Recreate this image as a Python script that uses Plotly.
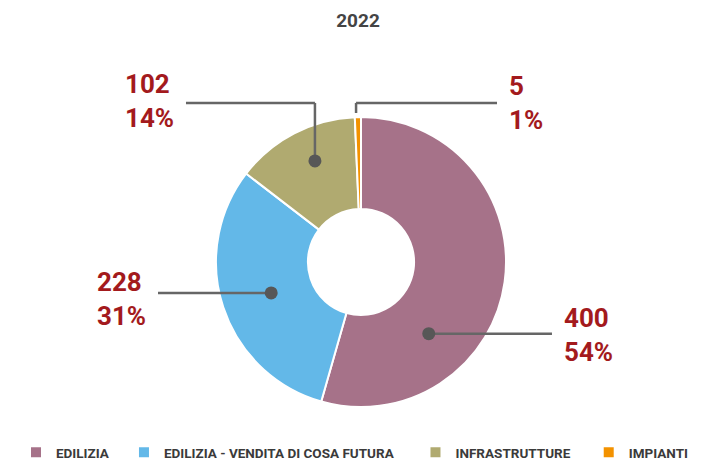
import math
import plotly.graph_objects as go

# ---- data ----
categories = ["EDILIZIA", "EDILIZIA - VENDITA DI COSA FUTURA", "INFRASTRUTTURE", "IMPIANTI"]
values = [400, 228, 102, 5]
colors = ["#A67289", "#63B8E8", "#B0AA70", "#F39200"]
title_text = "2022"

total = sum(values)
percents = [f"{round(v / total * 100)}%" for v in values]

# ---- geometry / layout constants (pixels) ----
W, H = 710, 464
CX, CY, R = 361, 262, 145
HOLE = 0.366
LEGEND_PAD = [3, 5, 4, 0]  # non-breaking spaces after each legend entry (spacing only)

# label placement per slice: anchor angle (deg clockwise from top), anchor radius (fraction of R),
# elbow y (units of R above centre, or None), line end x (units of R), dot shown, yshift of text (px)
label_cfg = [
    dict(angle=136.6, rad=0.68, elbow=None, end_x=1.317, dot=True, yshift=-1),
    dict(angle=251.0, rad=0.655, elbow=None, end_x=-1.40, dot=True, yshift=-6),
    dict(angle=335.5, rad=0.766, elbow=1.097, end_x=-1.207, dot=True, yshift=2),
    dict(angle=358.1, rad=1.028, elbow=1.097, end_x=0.938, dot=False, yshift=0),
]

LABEL_FONT = "Roboto, 'DejaVu Sans', sans-serif"
LEGEND_FONT = "Roboto, 'DejaVu Sans', sans-serif"
RED = "#A31A1D"
LINE_COLOR = "#666666"
DOT_COLOR = "#575757"


def px_x(u):  # units of R (right positive) -> paper x
    return (CX + u * R) / W


def px_y(u):  # units of R (up positive) -> paper y
    return (H - CY + u * R) / H


legend_labels = [c + "\u00a0" * n for c, n in zip(categories, LEGEND_PAD)]

fig = go.Figure()

fig.add_trace(go.Pie(
    labels=legend_labels,
    values=values,
    sort=False,
    direction="clockwise",
    rotation=0,
    hole=HOLE,
    textinfo="none",
    marker=dict(colors=colors, line=dict(color="white", width=2)),
    domain=dict(x=[px_x(-1), px_x(1)], y=[px_y(-1), px_y(1)]),
    hoverinfo="label+value+percent",
))

shapes = []
gap = 11 / R
for cat, v, p, cfg in zip(categories, values, percents, label_cfg):
    a = math.radians(cfg["angle"])
    ax_ = cfg["rad"] * math.sin(a)
    ay_ = cfg["rad"] * math.cos(a)
    if cfg["elbow"] is None:
        pts = [(ax_, ay_), (cfg["end_x"], ay_)]
        ly = ay_
    else:
        pts = [(ax_, ay_), (ax_, cfg["elbow"]), (cfg["end_x"], cfg["elbow"])]
        ly = cfg["elbow"]
    for (x0, y0), (x1, y1) in zip(pts[:-1], pts[1:]):
        shapes.append(dict(type="line", xref="paper", yref="paper",
                           x0=px_x(x0), y0=px_y(y0), x1=px_x(x1), y1=px_y(y1),
                           line=dict(color=LINE_COLOR, width=2.5), layer="above"))
    if cfg["dot"]:
        shapes.append(dict(type="circle", xref="paper", yref="paper",
                           xsizemode="pixel", ysizemode="pixel",
                           xanchor=px_x(ax_), yanchor=px_y(ay_),
                           x0=-6.5, x1=6.5, y0=-6.5, y1=6.5,
                           fillcolor=DOT_COLOR, line=dict(width=0), layer="above"))
    right = cfg["end_x"] > ax_
    fig.add_annotation(
        x=px_x(cfg["end_x"] + (gap if right else -gap)), y=px_y(ly), xref="paper", yref="paper",
        text=f"<b>{v}</b><br><b>{p}</b>", showarrow=False,
        xanchor="left" if right else "right", yanchor="middle", align="left",
        yshift=cfg["yshift"], borderpad=0,
        font=dict(family=LABEL_FONT, size=26, color=RED),
    )

fig.update_layout(
    width=W, height=H,
    margin=dict(l=0, r=0, t=0, b=0, autoexpand=False),
    paper_bgcolor="white", plot_bgcolor="white",
    shapes=shapes,
    title=dict(text=f"<b>{title_text}</b>", x=358 / W, xanchor="center", y=1 - 20 / H, yanchor="middle",
               font=dict(family=LABEL_FONT, size=19, color="#444444")),
    showlegend=True,
    legend=dict(orientation="h", x=16 / W, xanchor="left", y=-4 / H, yanchor="bottom",
                font=dict(family=LEGEND_FONT, size=13.5, color="#3a3a3a", weight="bold"),
                traceorder="normal", borderwidth=0),
)

fig.write_html("out.html", config={"displayModeBar": False},
               post_script="document.body.style.margin='0';document.body.style.overflow='hidden';")
